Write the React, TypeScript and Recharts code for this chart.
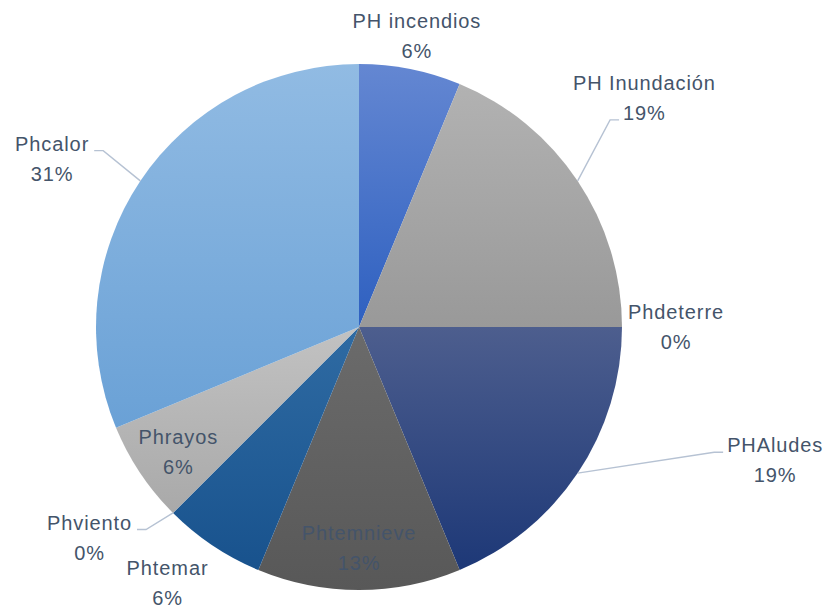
import React from 'react'
import { PieChart, Pie, Cell } from 'recharts'

// Hazard categories and their counts (percentages are derived by the pie)
const categories = [
  'PH incendios',
  'PH Inundación',
  'Phdeterre',
  'PHAludes',
  'Phtemnieve',
  'Phtemar',
  'Phviento',
  'Phrayos',
  'Phcalor',
]
const counts = [1, 3, 0, 3, 2, 1, 0, 1, 5]

// gradient stops per slice (top, bottom)
const topColors = ['#6487d2', '#b2b2b2', '#9a9a9a', '#4d5e8e', '#6b6b6b', '#2f6ba3', '#2a6099', '#c2c2c2', '#91bbe3']
const bottomColors = ['#2e60c0', '#999999', '#8a8a8a', '#1d3877', '#585858', '#18528d', '#1a5590', '#a9a9a9', '#6aa1d6']

// label placement: radius of the text block and angle shift (deg, ccw)
const labelRadius = [297, 366, 317, 437, 221, 320, 342, 220, 350]
const labelShift = [0, 5, 0, 16, 0, -3, -7, 1, 5]
// leader line: none, or attach to side of the name / pct line
const leaderAttach = ['', 'pct-left', '', 'name-left', '', '', 'name-right', '', 'name-right']

const data = categories.map((name, i) => ({ name, value: counts[i] }))

const FONT = '"Liberation Sans", Arial, sans-serif'
const FONT_SIZE = 20
const SPACING = 0.9
const TEXT_COLOR = '#44546a'
const LINE_COLOR = '#b6c2d3'
const RADIAN = Math.PI / 180

let ctx: CanvasRenderingContext2D | null = null
function textWidth(s: string): number {
  if (!ctx) ctx = document.createElement('canvas').getContext('2d')
  if (!ctx) return s.length * 10
  ctx.font = `${FONT_SIZE}px ${FONT}`
  return ctx.measureText(s).width + SPACING * s.length
}

function renderLabel(props: any) {
  const { cx, cy, midAngle, outerRadius, percent, index } = props
  const name = categories[index]
  const pct = `${Math.round(percent * 100)}%`
  const a = (midAngle + labelShift[index]) * RADIAN
  const r = labelRadius[index]
  const x = cx + r * Math.cos(a)
  const y = cy - r * Math.sin(a)
  const nameY = y - 15
  const pctY = y + 15

  let leader = null
  const attach = leaderAttach[index]
  if (attach) {
    const m = midAngle * RADIAN
    const ax = cx + outerRadius * Math.cos(m)
    const ay = cy - outerRadius * Math.sin(m)
    const isPct = attach.startsWith('pct')
    const w = textWidth(isPct ? pct : name)
    const ty = (isPct ? pctY : nameY) + 7
    const left = attach.endsWith('left')
    const tx1 = left ? x - w / 2 - 4 : x + w / 2 + 5
    const tx2 = left ? tx1 - 9 : tx1 + 9
    leader = (
      <polyline
        points={`${tx1},${ty} ${tx2},${ty} ${ax},${ay}`}
        fill="none"
        stroke={LINE_COLOR}
        strokeWidth={1.4}
      />
    )
  }

  return (
    <g key={`label-${index}`}>
      {leader}
      <text
        x={x}
        textAnchor="middle"
        fill={TEXT_COLOR}
        fontFamily={FONT}
        fontSize={FONT_SIZE}
        letterSpacing={SPACING}
      >
        <tspan x={x} y={nameY} dominantBaseline="central">{name}</tspan>
        <tspan x={x} y={pctY} dominantBaseline="central">{pct}</tspan>
      </text>
    </g>
  )
}

export default function App() {
  return (
    <div style={{ position: 'absolute', left: 0, top: 0, width: 829, height: 608, background: '#fff' }}>
      <PieChart width={829} height={608} margin={{ top: 0, right: 0, bottom: 0, left: 0 }}>
        <defs>
          {categories.map((_, i) => (
            <linearGradient key={i} id={`grad-${i}`} x1="0" y1="0" x2="0" y2="1">
              <stop offset="0%" stopColor={topColors[i]} />
              <stop offset="100%" stopColor={bottomColors[i]} />
            </linearGradient>
          ))}
        </defs>
        <Pie
          data={data}
          dataKey="value"
          nameKey="name"
          cx={359}
          cy={327}
          outerRadius={263}
          startAngle={90}
          endAngle={-270}
          stroke="none"
          labelLine={false}
          label={renderLabel}
          isAnimationActive={false}
        >
          {data.map((_, i) => (
            <Cell key={i} fill={`url(#grad-${i})`} />
          ))}
        </Pie>
      </PieChart>
    </div>
  )
}
